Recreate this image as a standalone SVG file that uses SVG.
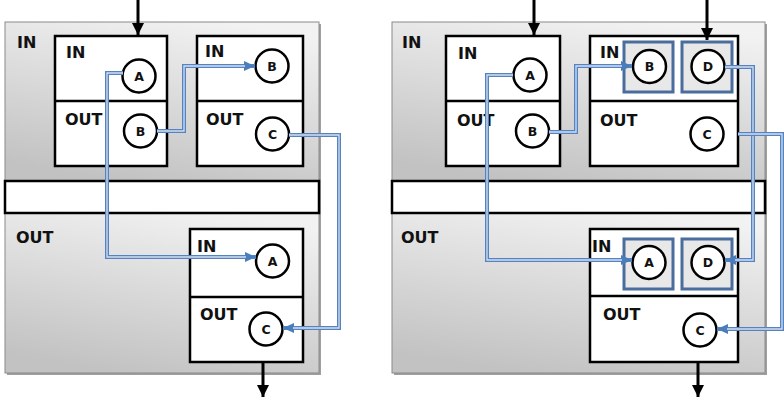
<svg xmlns="http://www.w3.org/2000/svg" width="784" height="401" viewBox="0 0 784 401">
<style>
.bg{fill:#ffffff}
.shadow{fill:#a0a0a0}
.region{fill:url(#gray);stroke:none}
.frame{fill:none;stroke:#8a8a8a;stroke-width:1}
.bar{fill:#ffffff;stroke:#000;stroke-width:2.5}
.box{fill:#ffffff;stroke:#000;stroke-width:2.5}
.div{stroke:#000;stroke-width:2.5}
.port{fill:#ffffff;stroke:#000;stroke-width:2.5}
.sq{fill:#e8e8e8;stroke:#4a6d9d;stroke-width:3}
.lbl{font-family:"DejaVu Sans",sans-serif;font-weight:bold;font-size:16px;fill:#111}
.pl{font-family:"DejaVu Sans",sans-serif;font-weight:bold;font-size:12.5px;fill:#111;text-anchor:middle}
.wire{fill:none;stroke:#5583c2;stroke-width:4}
.wirein{fill:none;stroke:#d3e0f2;stroke-width:1.3}
.flow{fill:none;stroke:#000;stroke-width:3}
</style>
<defs>
<linearGradient id="gray" x1="0.7" y1="0" x2="0.35" y2="1">
<stop offset="0" stop-color="#f2f2f2"/>
<stop offset="1" stop-color="#c2c2c2"/>
</linearGradient>
<marker id="ah" markerUnits="userSpaceOnUse" markerWidth="12" markerHeight="12" refX="12" refY="6" orient="auto">
<path d="M0,0 L12,6 L0,12 z" fill="#000"/>
</marker>
<marker id="bh" markerUnits="userSpaceOnUse" markerWidth="11" markerHeight="10" refX="11" refY="5" orient="auto">
<path d="M0,0 L11,5 L0,10 z" fill="#4a7ebb"/>
</marker>
</defs>
<rect class="bg" x="0" y="0" width="784" height="401"/>

<g id="panel-left">
<rect class="shadow" x="7" y="24" width="314" height="351"/>
<rect class="region" x="5" y="22" width="314" height="159"/>
<rect class="region" x="5" y="213" width="314" height="160"/>
<rect class="frame" x="5" y="22" width="314" height="351"/>
<rect class="bar" x="5" y="181" width="314" height="32"/>
<text class="lbl" x="17" y="48">IN</text>
<text class="lbl" x="16" y="243">OUT</text>
</g>

<g id="panel-right">
<rect class="shadow" x="394" y="24" width="373" height="351"/>
<rect class="region" x="392" y="22" width="373" height="159"/>
<rect class="region" x="392" y="213" width="373" height="160"/>
<rect class="frame" x="392" y="22" width="373" height="351"/>
<rect class="bar" x="392" y="181" width="373" height="32"/>
<text class="lbl" x="402" y="48">IN</text>
<text class="lbl" x="401" y="243">OUT</text>
</g>

<g id="L-box1">
<rect class="box" x="55" y="36" width="112" height="130"/>
<line class="div" x1="55" y1="101" x2="167" y2="101"/>
<text class="lbl" x="66" y="58">IN</text>
<text class="lbl" x="65" y="125">OUT</text>
<circle class="port" cx="139" cy="76" r="16.5"/><text class="pl" x="139" y="80.5">A</text>
<circle class="port" cx="140.5" cy="131" r="16.5"/><text class="pl" x="140.5" y="135.5">B</text>
</g>

<g id="L-box2">
<rect class="box" x="197" y="36" width="106" height="130"/>
<line class="div" x1="197" y1="101" x2="303" y2="101"/>
<text class="lbl" x="205" y="57">IN</text>
<text class="lbl" x="206" y="125">OUT</text>
<circle class="port" cx="272" cy="66" r="16.5"/><text class="pl" x="272" y="70.5">B</text>
<circle class="port" cx="272.5" cy="134" r="16.5"/><text class="pl" x="272.5" y="138.5">C</text>
</g>

<g id="L-box3">
<rect class="box" x="190" y="229" width="113" height="133"/>
<line class="div" x1="190" y1="297" x2="303" y2="297"/>
<text class="lbl" x="197" y="252">IN</text>
<text class="lbl" x="200" y="320">OUT</text>
<circle class="port" cx="272.5" cy="261" r="16.5"/><text class="pl" x="272.5" y="265.5">A</text>
<circle class="port" cx="266" cy="329" r="16.5"/><text class="pl" x="266" y="333.5">C</text>
</g>

<g id="R-box1">
<rect class="box" x="446" y="36" width="114" height="130"/>
<line class="div" x1="446" y1="101" x2="560" y2="101"/>
<text class="lbl" x="458" y="59">IN</text>
<text class="lbl" x="457" y="126">OUT</text>
<circle class="port" cx="530" cy="75" r="16.5"/><text class="pl" x="530" y="79.5">A</text>
<circle class="port" cx="532.5" cy="131" r="16.5"/><text class="pl" x="532.5" y="135.5">B</text>
</g>

<g id="R-box2">
<rect class="box" x="590" y="36" width="148" height="130"/>
<line class="div" x1="590" y1="101" x2="738" y2="101"/>
<text class="lbl" x="600" y="58">IN</text>
<text class="lbl" x="600" y="126">OUT</text>
<rect class="sq" x="624" y="42" width="49" height="50"/>
<rect class="sq" x="682" y="42" width="50" height="50"/>
<circle class="port" cx="649.5" cy="66.5" r="16.5"/><text class="pl" x="649.5" y="71">B</text>
<circle class="port" cx="708" cy="66.5" r="16.5"/><text class="pl" x="708" y="71">D</text>
<circle class="port" cx="707" cy="134" r="16.5"/><text class="pl" x="707" y="138.5">C</text>
</g>

<g id="R-box3">
<rect class="box" x="590" y="229" width="148" height="133"/>
<line class="div" x1="590" y1="296" x2="738" y2="296"/>
<text class="lbl" x="592" y="252">IN</text>
<text class="lbl" x="603" y="320">OUT</text>
<rect class="sq" x="624" y="239" width="49" height="50"/>
<rect class="sq" x="682" y="239" width="50" height="50"/>
<circle class="port" cx="649" cy="262.5" r="16.5"/><text class="pl" x="649" y="267">A</text>
<circle class="port" cx="708" cy="262.5" r="16.5"/><text class="pl" x="708" y="267">D</text>
<circle class="port" cx="700" cy="330" r="16.5"/><text class="pl" x="700" y="334.5">C</text>
</g>

<g id="connectors">
<path class="flow" d="M138,0 V35" marker-end="url(#ah)"/>
<path class="flow" d="M263,362 V397" marker-end="url(#ah)"/>
<path class="flow" d="M534,0 V35" marker-end="url(#ah)"/>
<path class="flow" d="M707,0 V40" marker-end="url(#ah)"/>
<path class="flow" d="M698,362 V397" marker-end="url(#ah)"/>

<path class="wire" d="M123,73 H107 V257 H256" marker-end="url(#bh)"/>
<path class="wirein" d="M123,73 H107 V257 H246"/>
<path class="wire" d="M157,131 H184 V66 H255" marker-end="url(#bh)"/>
<path class="wirein" d="M157,131 H184 V66 H245"/>
<path class="wire" d="M289,135 H339 V328 H283" marker-end="url(#bh)"/>
<path class="wirein" d="M289,135 H339 V328 H293"/>

<path class="wire" d="M513,75 H487 V260 H632" marker-end="url(#bh)"/>
<path class="wirein" d="M513,75 H487 V260 H622"/>
<path class="wire" d="M549,132 H576 V66 H632" marker-end="url(#bh)"/>
<path class="wirein" d="M549,132 H576 V66 H622"/>
<path class="wire" d="M725,67 H753 V260 H725" marker-end="url(#bh)"/>
<path class="wirein" d="M725,67 H753 V260 H735"/>
<path class="wire" d="M738,134 H782 V329 H717" marker-end="url(#bh)"/>
<path class="wirein" d="M738,134 H782 V329 H727"/>
</g>
</svg>
